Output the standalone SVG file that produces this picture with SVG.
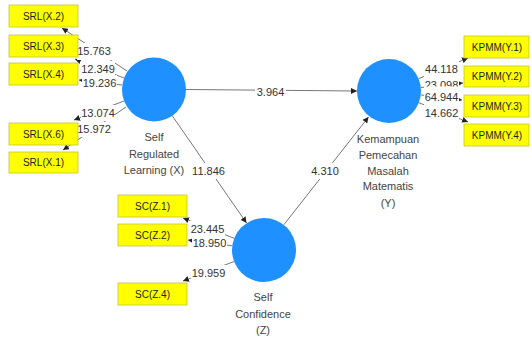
<svg xmlns="http://www.w3.org/2000/svg" width="532" height="343" viewBox="0 0 532 343">
<defs>
<marker id="ah" markerWidth="6" markerHeight="6" refX="6" refY="3" orient="auto" markerUnits="userSpaceOnUse">
<path d="M0,0 L6,3 L0,6 z" fill="#222"/>
</marker>
<style>
.lv{fill:#1E90FF;}
.ind{fill:#FFFF00;stroke:#c4c43a;stroke-width:0.8;}
.it{font-family:"Liberation Sans",Arial,sans-serif;font-size:10px;fill:#222;text-anchor:middle;}
.nt{font-family:"Liberation Sans",Arial,sans-serif;font-size:11px;fill:#444;text-anchor:middle;}
.ln{stroke:#777;stroke-width:1;fill:none;marker-end:url(#ah);}
.bg{fill:#fff;}
.lt{font-family:"Liberation Sans",Arial,sans-serif;font-size:11px;fill:#333;text-anchor:middle;}
</style>
</defs>
<rect width="532" height="343" fill="#fff"/>
<g id="connectors">
<line class="ln" x1="127" y1="71" x2="62" y2="28"/>
<line class="ln" x1="124" y1="78" x2="75" y2="59"/>
<line class="ln" x1="122" y1="85" x2="79" y2="80"/>
<line class="ln" x1="124" y1="101" x2="74" y2="120"/>
<line class="ln" x1="126" y1="107" x2="63" y2="150"/>
<line class="ln" x1="418.5" y1="78.7" x2="468" y2="58"/>
<line class="ln" x1="420.8" y1="87.5" x2="463" y2="83"/>
<line class="ln" x1="420.7" y1="94.9" x2="462" y2="100"/>
<line class="ln" x1="418.8" y1="102.7" x2="468" y2="122"/>
<line class="ln" x1="234.2" y1="238.3" x2="183" y2="218"/>
<line class="ln" x1="232.3" y1="245.8" x2="188" y2="240"/>
<line class="ln" x1="234.1" y1="261.5" x2="183" y2="281"/>
<line class="ln" x1="186" y1="89.5" x2="357" y2="91"/>
<line class="ln" x1="172" y1="115.4" x2="246.5" y2="223"/>
<line class="ln" x1="283.8" y1="224.8" x2="368.5" y2="117"/>
<g id="edge-labels">
<rect class="bg" x="77" y="43" width="34" height="17"/><text class="lt" x="94" y="55">15.763</text>
<rect class="bg" x="81" y="61" width="34" height="16"/><text class="lt" x="98" y="73">12.349</text>
<rect class="bg" x="82" y="75" width="35" height="17"/><text class="lt" x="99.5" y="87">19.236</text>
<rect class="bg" x="81" y="105" width="34" height="16"/><text class="lt" x="98" y="117">13.074</text>
<rect class="bg" x="77" y="122" width="34" height="15"/><text class="lt" x="94" y="133">15.972</text>
<rect class="bg" x="424" y="61" width="35" height="17"/><text class="lt" x="441.5" y="73">44.118</text>
<rect class="bg" x="424" y="77" width="35" height="17"/><text class="lt" x="441.5" y="89">23.098</text>
<rect class="bg" x="424" y="86.5" width="35" height="19"/><text class="lt" x="441.5" y="101">64.944</text>
<rect class="bg" x="424" y="105" width="35" height="17"/><text class="lt" x="441.5" y="117">14.662</text>
<rect class="bg" x="190" y="221" width="35" height="16"/><text class="lt" x="207.5" y="233">23.445</text>
<rect class="bg" x="192" y="236" width="35" height="15"/><text class="lt" x="209.5" y="247">18.950</text>
<rect class="bg" x="191" y="265" width="35" height="16"/><text class="lt" x="208.5" y="277">19.959</text>
<rect class="bg" x="255" y="84" width="31" height="16"/><text class="lt" x="270.5" y="96">3.964</text>
<rect class="bg" x="191" y="163" width="35" height="16"/><text class="lt" x="208.5" y="175">11.846</text>
<rect class="bg" x="310" y="163" width="30" height="16"/><text class="lt" x="325" y="175">4.310</text>
</g>
</g>
<g id="nodeX">
<circle class="lv" cx="154" cy="89.5" r="32"/>
<text class="nt" x="154" y="141">Self</text>
<text class="nt" x="154" y="158">Regulated</text>
<text class="nt" x="154" y="174">Learning (X)</text>
</g>
<g id="nodeY">
<circle class="lv" cx="389" cy="91" r="32"/>
<text class="nt" x="388" y="143">Kemampuan</text>
<text class="nt" x="388" y="159">Pemecahan</text>
<text class="nt" x="388" y="175">Masalah</text>
<text class="nt" x="388" y="190">Matematis</text>
<text class="nt" x="388" y="207">(Y)</text>
</g>
<g id="nodeZ">
<circle class="lv" cx="264" cy="250" r="32"/>
<text class="nt" x="263" y="301">Self</text>
<text class="nt" x="263" y="318">Confidence</text>
<text class="nt" x="263" y="334">(Z)</text>
</g>
<g id="SRL_X2"><rect class="ind" x="9" y="5" width="69" height="22"/><text class="it" x="43.5" y="19.6">SRL(X.2)</text></g>
<g id="SRL_X3"><rect class="ind" x="9" y="35" width="69" height="22"/><text class="it" x="43.5" y="49.6">SRL(X.3)</text></g>
<g id="SRL_X4"><rect class="ind" x="9" y="63" width="69" height="22"/><text class="it" x="43.5" y="77.6">SRL(X.4)</text></g>
<g id="SRL_X6"><rect class="ind" x="9" y="123" width="69" height="22"/><text class="it" x="43.5" y="137.6">SRL(X.6)</text></g>
<g id="SRL_X1"><rect class="ind" x="9" y="152" width="69" height="21"/><text class="it" x="43.5" y="166.1">SRL(X.1)</text></g>
<g id="KPMM_Y1"><rect class="ind" x="464" y="36" width="65" height="22"/><text class="it" x="497" y="50.6">KPMM(Y.1)</text></g>
<g id="KPMM_Y2"><rect class="ind" x="464" y="66" width="65" height="21"/><text class="it" x="497" y="80.1">KPMM(Y.2)</text></g>
<g id="KPMM_Y3"><rect class="ind" x="464" y="95" width="65" height="22"/><text class="it" x="497" y="109.6">KPMM(Y.3)</text></g>
<g id="KPMM_Y4"><rect class="ind" x="464" y="124" width="65" height="22"/><text class="it" x="497" y="138.6">KPMM(Y.4)</text></g>
<g id="SC_Z1"><rect class="ind" x="118" y="195" width="69" height="22"/><text class="it" x="152.5" y="209.6">SC(Z.1)</text></g>
<g id="SC_Z2"><rect class="ind" x="118" y="224" width="69" height="22"/><text class="it" x="152.5" y="238.6">SC(Z.2)</text></g>
<g id="SC_Z4"><rect class="ind" x="118" y="283" width="69" height="22"/><text class="it" x="152.5" y="297.6">SC(Z.4)</text></g>
</svg>
